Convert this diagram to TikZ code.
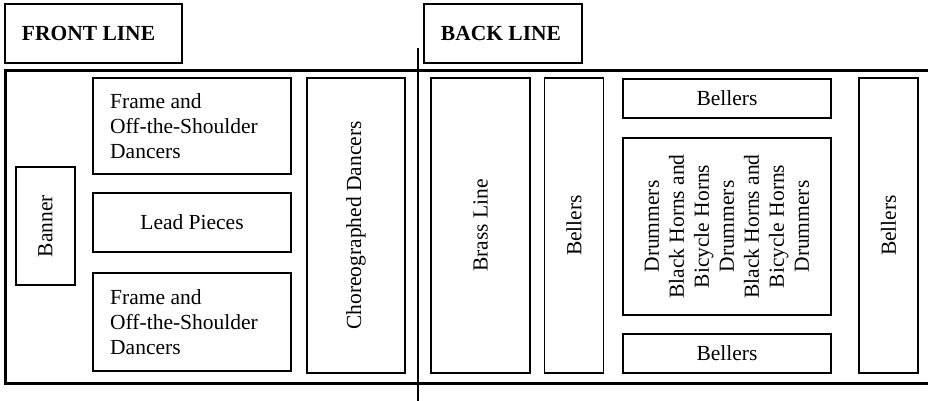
\documentclass[tikz,border=0pt]{standalone}
\usepackage{fontspec}
\setmainfont{Liberation Serif}
\begin{document}
\begin{tikzpicture}[x=1pt,y=-1pt,
  box/.style={draw, line width=1.1pt, inner sep=0pt, outer sep=0pt},
  lbl/.style={inner sep=0pt, font=\fontsize{21.5}{25}\selectfont, align=center},
  lbll/.style={inner sep=0pt, font=\fontsize{21.5}{25}\selectfont, align=left, anchor=west},
  vlbl/.style={lbl, rotate=90}]
\useasboundingbox (0,0) rectangle (928,400);
% headers
\node[box, minimum width=177pt, minimum height=59pt] (front) at (93.5,33.5) {};
\node[lbl, font=\fontsize{21.5}{25}\selectfont\bfseries] at ([xshift=-5pt]front.center) {FRONT LINE};
\node[box, minimum width=158pt, minimum height=59pt] (back) at (503,33.5) {};
\node[lbl, font=\fontsize{21.5}{25}\selectfont\bfseries] at ([xshift=-2pt]back.center) {BACK LINE};
% outer frame
\coordinate (oa) at (5.5,70);
\coordinate (ob) at (929,383.5);
\draw[line width=3pt] (oa) rectangle (ob);
% divider
\coordinate (da) at (418,48);
\coordinate (db) at (418,402);
\draw[line width=2.6pt] (da) -- (db);
% front line boxes
\node[box, minimum width=59pt, minimum height=118pt] (banner) at (45.5,226) {};
\node[vlbl] at (banner) {Banner};
\node[box, minimum width=198pt, minimum height=96pt] (f1) at (192,126) {};
\node[lbll] at ([xshift=17pt]f1.west) {Frame and\\Off-the-Shoulder\\Dancers};
\node[box, minimum width=198pt, minimum height=59pt] (lead) at (192,222.5) {};
\node[lbl] at (lead) {Lead Pieces};
\node[box, minimum width=198pt, minimum height=98pt] (f2) at (192,322) {};
\node[lbll] at ([xshift=17pt]f2.west) {Frame and\\Off-the-Shoulder\\Dancers};
\node[box, minimum width=98pt, minimum height=295pt] (chor) at (356,225.5) {};
\node[vlbl] at (chor) {Choreographed Dancers};
% back line boxes
\node[box, minimum width=99pt, minimum height=295pt] (brass) at (480.5,225.5) {};
\node[vlbl] at (brass) {Brass Line};
\node[box, minimum width=59pt, minimum height=295pt] (bel1) at (574,225.5) {};
\node[vlbl] at (bel1) {Bellers};
\node[box, minimum width=208pt, minimum height=39pt] (beltop) at (727,98.5) {};
\node[lbl] at (beltop) {Bellers};
\node[box, minimum width=208pt, minimum height=177pt] (drum) at (727,226.5) {};
\node[vlbl] at (drum) {Drummers\\Black Horns and\\Bicycle Horns\\Drummers\\Black Horns and\\Bicycle Horns\\Drummers};
\node[box, minimum width=208pt, minimum height=39pt] (belbot) at (727,353.5) {};
\node[lbl] at (belbot) {Bellers};
\node[box, minimum width=59pt, minimum height=295pt] (bel2) at (888.5,225.5) {};
\node[vlbl] at (bel2) {Bellers};
\end{tikzpicture}
\end{document}
